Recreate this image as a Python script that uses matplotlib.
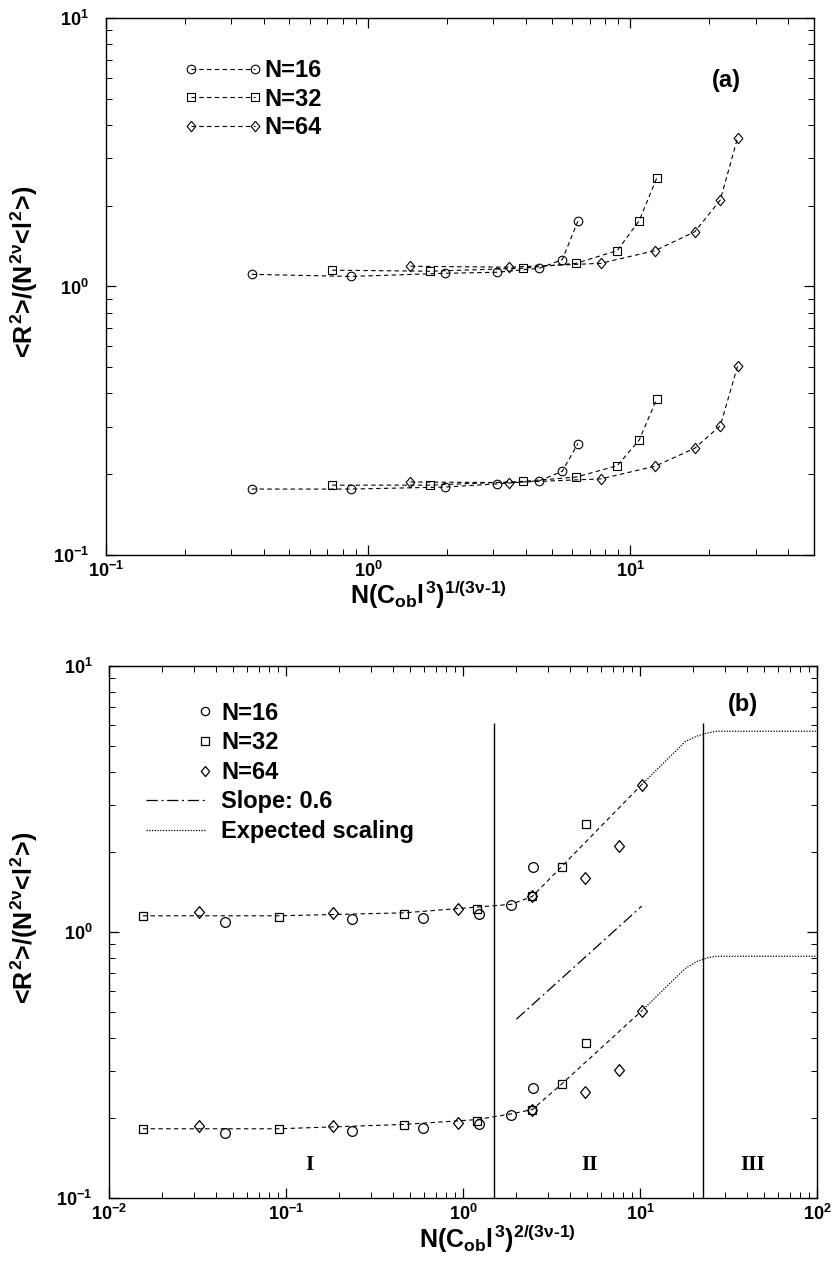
import matplotlib
matplotlib.use("Agg")
import matplotlib.pyplot as plt
from matplotlib.lines import Line2D
from matplotlib.legend_handler import HandlerLine2D

plt.rcParams['font.family'] = 'Liberation Sans'
plt.rcParams['font.weight'] = 'bold'
plt.rcParams['mathtext.fontset'] = 'custom'
plt.rcParams['mathtext.rm'] = 'Liberation Sans:bold'
plt.rcParams['mathtext.it'] = 'Liberation Sans:bold'
plt.rcParams['mathtext.bf'] = 'Liberation Sans:bold'

# ---- panel (a): x = N(C_ob l^3)^(1/(3v-1)) ----
xa_16 = [0.36, 0.86, 1.96, 3.1, 4.5, 5.5, 6.3]
xa_32 = [0.73, 1.72, 3.9, 6.2, 8.9, 10.8, 12.6]
xa_64 = [1.45, 3.44, 7.7, 12.4, 17.6, 22.0, 25.6]

# upper and lower families of curves (same points in both panels)
up_16 = [1.11, 1.09, 1.12, 1.13, 1.17, 1.26, 1.75]
lo_16 = [0.176, 0.176, 0.179, 0.184, 0.189, 0.205, 0.26]
up_32 = [1.15, 1.14, 1.17, 1.22, 1.36, 1.76, 2.54]
lo_32 = [0.182, 0.182, 0.188, 0.195, 0.215, 0.268, 0.382]
up_64 = [1.19, 1.18, 1.22, 1.36, 1.60, 2.10, 3.58]
lo_64 = [0.187, 0.186, 0.192, 0.214, 0.25, 0.303, 0.505]

# ---- panel (b): x = N(C_ob l^3)^(2/(3v-1)) ----
# first N=16 point falls below 10^-2, so it is not shown
xb_16 = [0.045, 0.236, 0.593, 1.23, 1.87, 2.48]
xb_32 = [0.0155, 0.091, 0.465, 1.19, 2.46, 3.6, 4.95]
xb_64 = [0.032, 0.184, 0.93, 2.44, 4.9, 7.55, 10.2]

# dashed guide through the data
guide_x = [0.0155, 0.091, 0.465, 1.19, 1.87, 2.46, 3.6, 10.2]
guide_up = [1.15, 1.15, 1.18, 1.24, 1.27, 1.36, 1.76, 3.58]
guide_lo = [0.182, 0.182, 0.189, 0.197, 0.207, 0.215, 0.268, 0.505]

# expected scaling (dotted)
exp_x = [10.2, 18.0, 21.0, 24.0, 27.0, 100.0]
exp_up = [3.58, 5.2, 5.45, 5.6, 5.68, 5.68]
exp_lo = [0.505, 0.73, 0.775, 0.80, 0.81, 0.81]

# slope 0.6 reference segment
slope_x = [2.0, 10.2]
slope_y = [0.47, 1.25]

# regime boundaries and labels
bounds_x = [1.5, 22.5]
bounds_top = 6.1
regime_x = [0.135, 5.2, 43.0]
regime_names = ['I', 'II', 'III']
regime_y = 0.133

labels = ['N=16', 'N=32', 'N=64']

# slightly tall open diamond
diamond = [(0, 1), (0.84, 0), (0, -1), (-0.84, 0), (0, 1)]
markers = ['o', 's', diamond]

dash = (0, (4, 3))
ylab = r'$\text{<}R^{2}\text{>/(}N^{2\nu}\text{<}l^{2}\text{>)}$'


def style_axes(ax, xlim):
    ax.set_xscale('log')
    ax.set_yscale('log')
    ax.set_xlim(*xlim)
    ax.set_ylim(0.1, 10)
    ax.tick_params(which='both', direction='in', top=True, right=True,
                   labelsize=13)
    ax.tick_params(which='major', length=7, width=0.9)
    ax.tick_params(which='minor', length=4, width=0.7)
    ax.tick_params(axis='y', pad=12)
    ax.tick_params(axis='x', pad=4)
    for sp in ax.spines.values():
        sp.set_linewidth(1.0)


class MarkerAtEnd(HandlerLine2D):
    # single marker placed at the right end of the handle
    def create_artists(self, legend, orig_handle, xdescent, ydescent,
                       width, height, fontsize, trans):
        arts = super().create_artists(legend, orig_handle, xdescent, ydescent,
                                      width, height, fontsize, trans)
        for a in arts:
            a.set_markevery(None)
            a.set_data([width - xdescent], [(height - ydescent) / 2])
        return arts


fig = plt.figure(figsize=(8.33, 12.61), dpi=100)
ax1 = fig.add_axes([0.127, 0.5599, 0.850, 0.4258])
ax2 = fig.add_axes([0.131, 0.050, 0.850, 0.4219])

# ---------------- panel (a) ----------------
sizes_a = [6.2, 5.4, 7.5]
handles_a = []
for xs, ys_up, ys_lo, mk, ms, lab in zip([xa_16, xa_32, xa_64],
                                         [up_16, up_32, up_64],
                                         [lo_16, lo_32, lo_64],
                                         markers, sizes_a, labels):
    h, = ax1.plot(xs, ys_up, color='black', linestyle=dash, linewidth=0.8,
                  marker=mk, markersize=ms, markerfacecolor='none',
                  markeredgewidth=0.8, label=lab)
    ax1.plot(xs, ys_lo, color='black', linestyle=dash, linewidth=0.8,
             marker=mk, markersize=ms, markerfacecolor='none',
             markeredgewidth=0.8)
    handles_a.append(h)

style_axes(ax1, (0.1, 50))
ax1.legend(handles=handles_a, loc='upper left', bbox_to_anchor=(0.12, 0.924),
           frameon=False, fontsize=17, numpoints=2, handlelength=2.7,
           handletextpad=0.4, labelspacing=0.24, borderpad=0, borderaxespad=0,
           handler_map={Line2D: HandlerLine2D(numpoints=2, marker_pad=0)})
ax1.text(0.877, 0.883, '(a)', transform=ax1.transAxes, fontsize=17,
         ha='center', va='center')
ax1.set_xlabel(r'$N(C_{ob}l^{3})^{\text{1/(3}\nu\text{-1)}}$', fontsize=18)
ax1.set_ylabel(ylab, fontsize=18)
ax1.xaxis.set_label_coords(0.455, -0.044)
ax1.yaxis.set_label_coords(-0.093, 0.527)

# ---------------- panel (b) ----------------
sizes_b = [7.0, 6.0, 8.5]
handles_b = []
for xs, ys_up, ys_lo, mk, ms, lab in zip([xb_16, xb_32, xb_64],
                                         [up_16[1:], up_32, up_64],
                                         [lo_16[1:], lo_32, lo_64],
                                         markers, sizes_b, labels):
    h, = ax2.plot(xs, ys_up, linestyle='none', marker=mk, markersize=ms,
                  markerfacecolor='none', markeredgecolor='black',
                  markeredgewidth=0.9, label=lab)
    ax2.plot(xs, ys_lo, linestyle='none', marker=mk, markersize=ms,
             markerfacecolor='none', markeredgecolor='black',
             markeredgewidth=0.9)
    handles_b.append(h)

ax2.plot(guide_x, guide_up, color='black', linestyle=dash, linewidth=0.8)
ax2.plot(guide_x, guide_lo, color='black', linestyle=dash, linewidth=0.8)

h_slope, = ax2.plot(slope_x, slope_y, color='black', linewidth=0.9,
                    linestyle=(0, (9, 3, 1.5, 3)), label='Slope: 0.6')
h_exp, = ax2.plot(exp_x, exp_up, color='black', linewidth=0.9,
                  linestyle=(0, (1, 1.2)), label='Expected scaling')
ax2.plot(exp_x, exp_lo, color='black', linewidth=0.9, linestyle=(0, (1, 1.2)))

ax2.vlines(bounds_x, 0.1, bounds_top, color='black', linewidth=1.0)
for xr, name in zip(regime_x, regime_names):
    ax2.text(xr, regime_y, name, family='Liberation Serif', fontweight='bold',
             fontsize=15, ha='center', va='center')

style_axes(ax2, (0.01, 100))
ax2.legend(handles=handles_b + [h_slope, h_exp], loc='upper left',
           bbox_to_anchor=(0.052, 0.933), frameon=False, fontsize=17,
           handlelength=2.5, handletextpad=0.7, labelspacing=0.28,
           borderpad=0, borderaxespad=0, markerscale=0.85,
           handler_map={h: MarkerAtEnd() for h in handles_b})
ax2.text(0.895, 0.927, '(b)', transform=ax2.transAxes, fontsize=17,
         ha='center', va='center')
ax2.set_xlabel(r'$N(C_{ob}l^{3})^{\text{2/(3}\nu\text{-1)}}$', fontsize=18)
ax2.set_ylabel(ylab, fontsize=18)
ax2.xaxis.set_label_coords(0.548, -0.046)
ax2.yaxis.set_label_coords(-0.097, 0.527)

fig.savefig('out.png', dpi=100)
